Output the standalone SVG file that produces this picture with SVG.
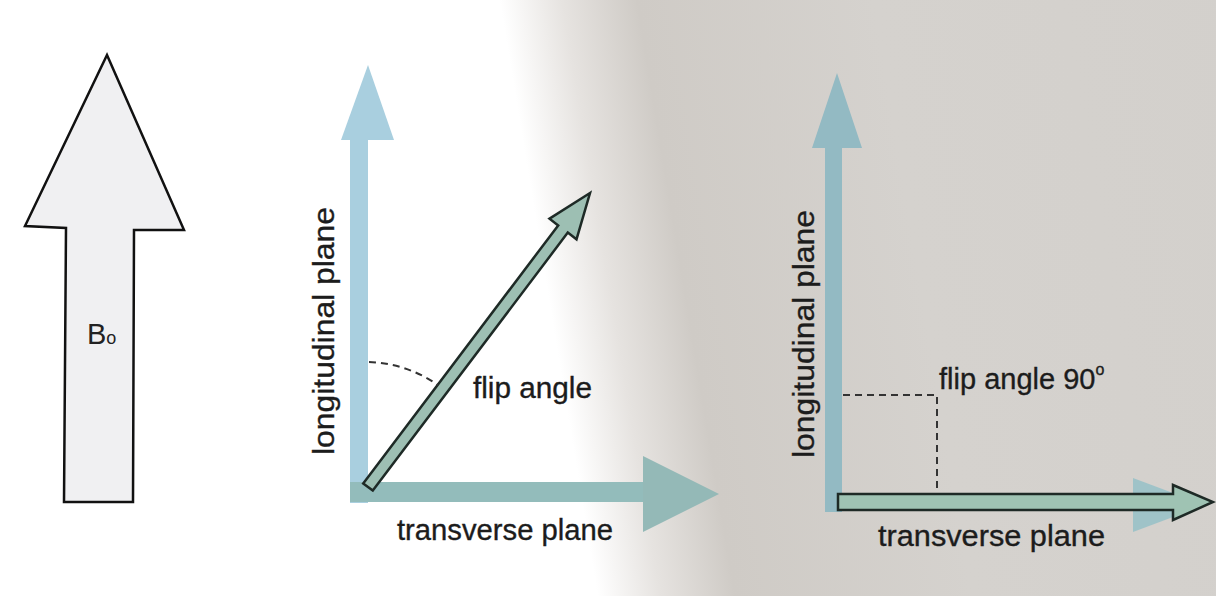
<svg xmlns="http://www.w3.org/2000/svg" width="1216" height="596" viewBox="0 0 1216 596">
<defs>
<linearGradient id="bg" x1="0" y1="0" x2="1216" y2="-200" gradientUnits="userSpaceOnUse">
<stop offset="0" stop-color="#ffffff"/>
<stop offset="0.40" stop-color="#ffffff"/>
<stop offset="0.45" stop-color="#e6e3e0"/>
<stop offset="0.51" stop-color="#cfcbc6"/>
<stop offset="0.7" stop-color="#d5d2ce"/>
<stop offset="1" stop-color="#d3d0cc"/>
</linearGradient>
<style>
.lbl{font-family:"Liberation Sans",Arial,sans-serif;font-size:29px;fill:#1c1c1c;stroke:#1c1c1c;stroke-width:0.35}
.dash{fill:none;stroke:#333;stroke-width:2;stroke-dasharray:7 5}
.vec{stroke:#1e2a26;stroke-width:2.5;stroke-linejoin:miter}
</style>
</defs>
<rect width="1216" height="596" fill="url(#bg)"/>

<g id="b0">
<polygon points="107,55 184,230 134,230 133,502 64,502 66,228 25,226" fill="#f0f0f2" stroke="#111" stroke-width="2.5"/>
<text x="87" y="344" style="font-family:'Liberation Sans',Arial,sans-serif;font-size:29px;fill:#222">B<tspan font-size="18">o</tspan></text>
</g>

<g id="middle-axes">
<rect x="350" y="140" width="18" height="363" fill="#a9cfdf"/>
<polygon points="368,65 394,140 341,140" fill="#a9cfdf"/>
<rect x="350" y="482" width="295" height="20" fill="#93bcbb"/>
<polygon points="643,456 719,494 643,532" fill="#94b9b7"/>
<text class="lbl" transform="translate(334,331) rotate(-90)" text-anchor="middle" textLength="248" lengthAdjust="spacingAndGlyphs">longitudinal plane</text>
<text class="lbl" x="397" y="540" textLength="216" lengthAdjust="spacingAndGlyphs">transverse plane</text>
</g>

<g id="middle-vector">
<polygon class="vec" points="363.2,483.4 558.2,225.4 549.5,218.7 590,193 576.5,239.3 567.8,232.6 372.8,490.6" fill="#9dbfb3"/>
<text class="lbl" x="473" y="398" textLength="119" lengthAdjust="spacingAndGlyphs">flip angle</text>
</g>

<g id="right-axes">
<rect x="825" y="148" width="17" height="364" fill="#93bac3"/>
<polygon points="837,73 862,148 812,148" fill="#93bac3"/>
<polygon points="1133,478 1205,505 1133,532" fill="#9fc3c8"/>
<text class="lbl" transform="translate(814,334) rotate(-90)" text-anchor="middle" textLength="248" lengthAdjust="spacingAndGlyphs">longitudinal plane</text>
<text class="lbl" x="878" y="546" textLength="227" lengthAdjust="spacingAndGlyphs">transverse plane</text>
</g>

<g id="right-vector">
<polygon class="vec" points="838,494 1173,494 1173,485 1213,502 1173,520 1173,510 838,510" fill="#9fc3b3"/>
<text class="lbl" x="939" y="389">flip angle 90<tspan font-size="16" dy="-14">o</tspan></text>
</g>

<g id="connectors">
<path class="dash" d="M369,362 A128,128 0 0 1 438,385"/>
<path class="dash" d="M843,395 H937 V493"/>
</g>
</svg>
